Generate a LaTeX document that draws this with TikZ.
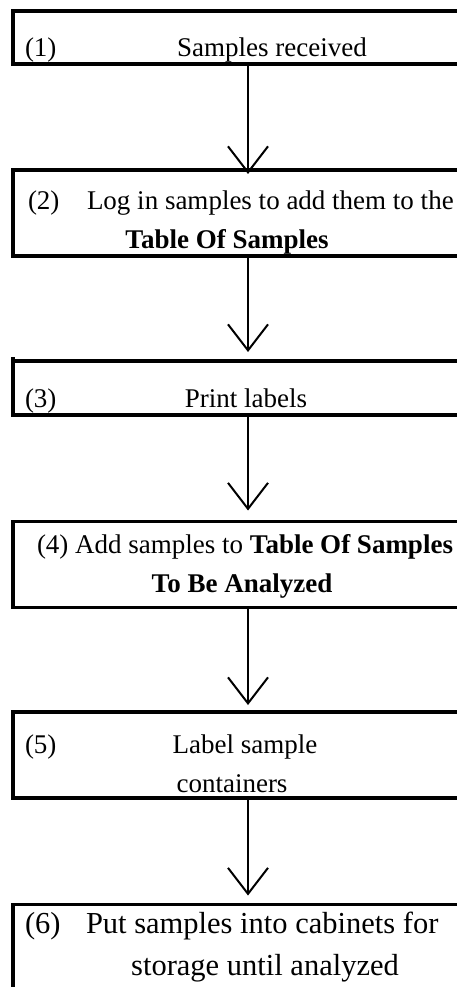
\documentclass[tikz,border=0pt]{standalone}
\usepackage{fontspec}
\setmainfont{Liberation Serif}
\usetikzlibrary{arrows.meta}
\begin{document}
\begin{tikzpicture}[x=1pt,y=-1pt,
  box/.style={draw, line width=3.6pt, rectangle, inner sep=0pt, outer sep=0pt, minimum width=470pt, anchor=north west},
  txt/.style={inner sep=0pt, outer sep=0pt, font=\fontsize{27}{32}\selectfont},
  bigtxt/.style={inner sep=0pt, outer sep=0pt, font=\fontsize{30.5}{36}\selectfont},
  arr/.style={line width=2pt, -{Straight Barb[length=26pt,width=40pt,line width=2pt]}}]
\useasboundingbox (0,0) rectangle (457,987);
\clip (0,0) rectangle (457,987);
\coordinate (ax) at (248,0);
% boxes
\node[box, minimum height=53pt] (b1) at (13,11) {};
\node[box, minimum height=86pt] (b2) at (13,170) {};
\node[box, draw=none, minimum height=54pt] (b3) at (13,361) {};
\draw[line width=3.6pt] ([xshift=-1.8pt]b3.north west) -- (b3.north east);
\draw[line width=3.6pt] ([yshift=4pt]b3.north west) -- (b3.south west) -- (b3.south east);
\node[box, minimum height=86pt] (b4) at (13,521.5) {};
\node[box, minimum height=86pt] (b5) at (13,712) {};
\node[box, minimum height=100pt] (b6) at (13,904.5) {};
% texts
\node[txt, anchor=base west] (t1a) at (25,57) {(1)};
\node[txt, anchor=base] (t1b) at (272,57) {Samples received};
\node[txt, anchor=base west] (t2a) at (28,209) {(2)};
\node[txt, anchor=base west] (t2b) at (87,209) {Log in samples to add them to the};
\node[txt, anchor=base, font=\fontsize{27}{32}\selectfont\bfseries] (t2c) at (227,248) {Table Of Samples};
\node[txt, anchor=base west] (t3a) at (25,407) {(3)};
\node[txt, anchor=base] (t3b) at (246,407) {Print labels};
\node[txt, anchor=base west] (t4a) at (37,553) {(4) Add samples to \textbf{Table Of Samples}};
\node[txt, anchor=base, font=\fontsize{27}{32}\selectfont\bfseries] (t4b) at (242,592) {To Be Analyzed};
\node[txt, anchor=base west] (t5a) at (25,753) {(5)};
\node[txt, anchor=base] (t5b) at (245,753) {Label sample};
\node[txt, anchor=base] (t5c) at (232,792) {containers};
\node[bigtxt, anchor=base west] (t6a) at (25,933) {(6)};
\node[bigtxt, anchor=base west] (t6b) at (86,933) {Put samples into cabinets for};
\node[bigtxt, anchor=base] (t6c) at (265,975) {storage until analyzed};
% arrows
\draw[arr, shorten >=-4pt] (b1.south -| ax) -- (b2.north -| ax);
\draw[arr, shorten >=9pt] (b2.south -| ax) -- (b3.north -| ax);
\draw[arr, shorten >=11pt] (b3.south -| ax) -- (b4.north -| ax);
\draw[arr, shorten >=7pt] (b4.south -| ax) -- (b5.north -| ax);
\draw[arr, shorten >=9pt] (b5.south -| ax) -- (b6.north -| ax);
\end{tikzpicture}
\end{document}
